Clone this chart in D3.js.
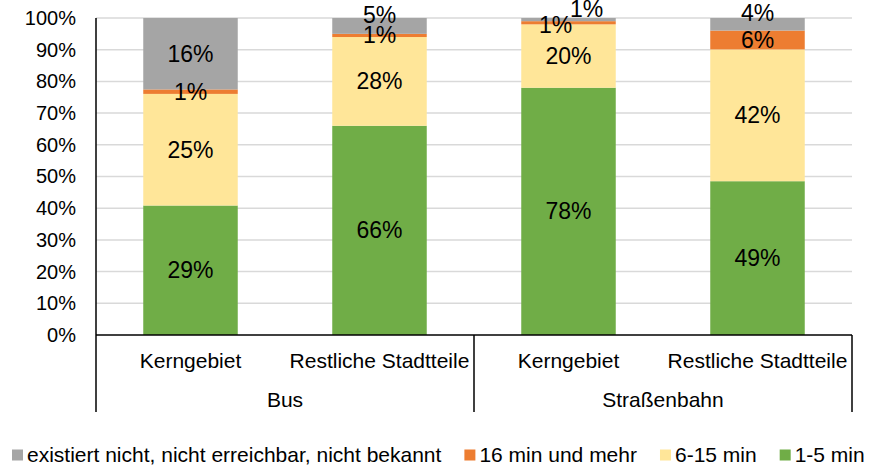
<!DOCTYPE html>
<html lang="de">
<head>
  <meta charset="UTF-8">
  <title>Erreichbarkeit</title>
  <script src="https://d3js.org/d3.v7.min.js"></script>
  <style>
    body { margin: 0; padding: 0; background: #fff; }
    svg { display: block; }
    text { font-family: "Liberation Sans", Arial, sans-serif; fill: #000; }
    .grid-line { stroke: #d9d9d9; stroke-width: 1.5; }
  </style>
</head>
<body>
  <svg id="chart" width="871" height="467"></svg>

  <script>
    // Kategorien (Gruppe / Gebiet)
    const groups = ["Bus", "Straßenbahn"];
    const areas = ["Kerngebiet", "Restliche Stadtteile", "Kerngebiet", "Restliche Stadtteile"];

    // Serien (von unten nach oben)
    const seriesNames = ["1-5 min", "6-15 min", "16 min und mehr", "existiert nicht, nicht erreichbar, nicht bekannt"];
    const seriesColors = ["#70ad47", "#ffe699", "#ed7d31", "#a5a5a5"];

    const min1to5 = [29, 66, 78, 49];
    const min6to15 = [25, 28, 20, 42];
    const min16plus = [1, 1, 1, 6];
    const notAvailable = [16, 5, 1, 4];

    const yTicks = [0, 0.1, 0.2, 0.3, 0.4, 0.5, 0.6, 0.7, 0.8, 0.9, 1];

    // Beschriftungen, die wegen Überlappung verschoben sind: [bar, serie, dx, dy]
    const labelNudges = [[1, 3, 0, -11], [2, 2, -13, 2], [2, 3, 18, -11], [3, 3, 0, -11]];

    const width = 871, height = 467;
    const margin = { top: 18, right: 19, bottom: 132, left: 96 };

    const svg = d3.select("#chart");

    const table = areas.map((a, i) => ({
      idx: i,
      s0: min1to5[i], s1: min6to15[i], s2: min16plus[i], s3: notAvailable[i]
    }));
    const keys = ["s0", "s1", "s2", "s3"];
    const stacked = d3.stack().keys(keys).offset(d3.stackOffsetExpand)(table);

    const x = d3.scaleBand()
      .domain(d3.range(areas.length))
      .range([margin.left, width - margin.right])
      .paddingInner(0.5)
      .paddingOuter(0.25);

    const y = d3.scaleLinear()
      .domain([0, 1])
      .range([height - margin.bottom, margin.top]);

    // Gitterlinien
    svg.append("g")
      .selectAll("line")
      .data(yTicks.slice(1))
      .enter().append("line")
      .attr("class", "grid-line")
      .attr("x1", margin.left)
      .attr("x2", width - margin.right)
      .attr("y1", d => y(d))
      .attr("y2", d => y(d));

    // Balken
    svg.append("g")
      .selectAll("g")
      .data(stacked)
      .enter().append("g")
      .attr("fill", (d, i) => seriesColors[i])
      .selectAll("rect")
      .data(d => d)
      .enter().append("rect")
      .attr("x", d => x(d.data.idx))
      .attr("width", x.bandwidth())
      .attr("y", d => y(d[1]))
      .attr("height", d => y(d[0]) - y(d[1]));

    // Datenbeschriftungen
    const raw = [min1to5, min6to15, min16plus, notAvailable];
    const labels = svg.append("g").attr("font-size", 23).attr("text-anchor", "middle");
    stacked.forEach((layer, si) => {
      layer.forEach((d, bi) => {
        const n = labelNudges.find(v => v[0] === bi && v[1] === si) || [bi, si, 0, 0];
        labels.append("text")
          .attr("x", x(bi) + x.bandwidth() / 2 + n[2])
          .attr("y", y((d[0] + d[1]) / 2) + n[3])
          .attr("dy", "0.35em")
          .text(raw[si][bi] + "%");
      });
    });

    // Y-Achse
    const yAxis = svg.append("g")
      .attr("transform", `translate(${margin.left},0)`)
      .call(d3.axisLeft(y).tickValues(yTicks).tickFormat(d3.format(".0%")).tickSize(0).tickPadding(20));
    yAxis.select(".domain").remove();
    yAxis.selectAll("text").attr("font-size", 20).attr("font-family", null);

    // X-Achse mit zwei Ebenen
    const base = height - margin.bottom;
    const axisBottom = 412;
    svg.append("line")
      .attr("x1", margin.left).attr("x2", width - margin.right)
      .attr("y1", base).attr("y2", base)
      .attr("stroke", "#000").attr("stroke-width", 1.5);
    svg.append("line")
      .attr("x1", margin.left).attr("x2", margin.left)
      .attr("y1", margin.top).attr("y2", axisBottom)
      .attr("stroke", "#000").attr("stroke-width", 1.5);

    const groupX = d3.scaleBand().domain(groups).range([margin.left, width - margin.right]);
    groups.forEach(g => {
      svg.append("line")
        .attr("x1", groupX(g) + groupX.bandwidth()).attr("x2", groupX(g) + groupX.bandwidth())
        .attr("y1", base).attr("y2", axisBottom)
        .attr("stroke", "#000").attr("stroke-width", 1.5);
      svg.append("text")
        .attr("x", groupX(g) + groupX.bandwidth() / 2)
        .attr("y", 400)
        .attr("dy", "0.35em")
        .attr("text-anchor", "middle")
        .attr("font-size", 21)
        .text(g);
    });

    svg.append("g")
      .selectAll("text")
      .data(areas)
      .enter().append("text")
      .attr("x", (d, i) => x(i) + x.bandwidth() / 2)
      .attr("y", 361)
      .attr("dy", "0.35em")
      .attr("text-anchor", "middle")
      .attr("font-size", 21)
      .text(d => d);

    // Legende
    const legendOrder = [3, 2, 1, 0];
    const legend = svg.append("g").attr("transform", "translate(12,455)");
    let lx = 0;
    legendOrder.forEach(si => {
      const item = legend.append("g").attr("transform", `translate(${lx},0)`);
      item.append("rect")
        .attr("x", 0).attr("y", -5.5)
        .attr("width", 11).attr("height", 11)
        .attr("fill", seriesColors[si]);
      const t = item.append("text")
        .attr("x", 15)
        .attr("dy", "0.35em")
        .attr("font-size", 21)
        .text(seriesNames[si]);
      lx += 15 + t.node().getComputedTextLength() + 23;
    });
  </script>
</body>
</html>
